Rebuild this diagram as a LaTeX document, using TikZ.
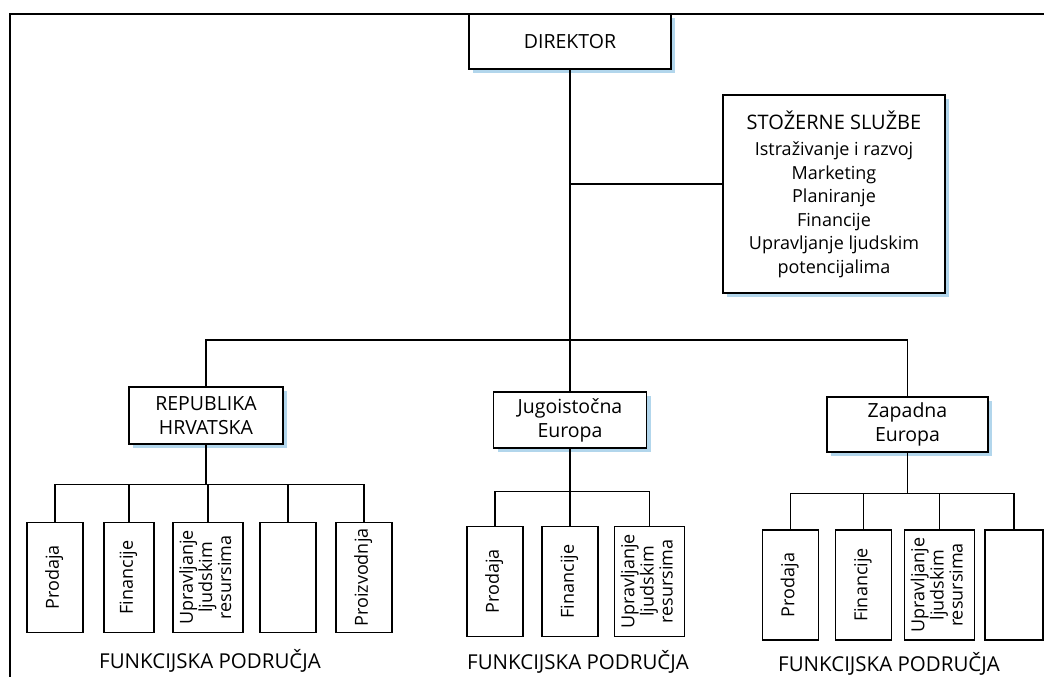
\documentclass[tikz,border=0pt]{standalone}
\usepackage{graphicx}
\usepackage{fontspec}
\setmainfont{Open Sans}
\usetikzlibrary{shadows}
\definecolor{shadowblue}{RGB}{178,214,236}
\newcommand{\vtext}[1]{\rotatebox{90}{\begin{tabular}{@{}c@{}}#1\end{tabular}}}
\begin{document}
\begin{tikzpicture}[x=1pt, y=-1pt, line width=1.1pt,
  box/.style={draw, fill=white, align=center, inner sep=2pt, font=\fontsize{19.5}{24}\selectfont},
  shbox/.style={box, drop shadow={shadow xshift=4pt, shadow yshift=-4pt, fill=shadowblue, opacity=1}},
  unit/.style={draw, fill=white, minimum width=56pt, minimum height=110pt, inner sep=1pt, font=\fontsize{18}{19}\selectfont},
  area/.style={font=\fontsize{20.5}{24}\selectfont}]

\useasboundingbox (0,0) rectangle (1044,677);
\draw[line width=2.5pt] (1044,14) -- (10,14) -- (10,677);

% top
\node[shbox, minimum width=202pt, minimum height=55pt] (dir) at (570,41.5) {DIREKTOR};
\node[shbox, minimum width=222pt, minimum height=198pt, font=\fontsize{18}{23.5}\selectfont] (staff) at (834,194)
  {{\fontsize{20}{24}\selectfont STOŽERNE SLUŽBE}\\[3pt]
   Istraživanje i razvoj\\ Marketing\\ Planiranje\\ Financije\\
   Upravljanje ljudskim\\ potencijalima};

% regions
\node[shbox, minimum width=154pt, minimum height=57pt] (rh) at (206,415.5) {REPUBLIKA\\HRVATSKA};
\node[shbox, minimum width=153pt, minimum height=56pt] (jie) at (570,420) {Jugoistočna\\Europa};
\node[shbox, minimum width=161pt, minimum height=55pt] (ze) at (907.5,424.5) {Zapadna\\Europa};

% functional units
\node[unit] (rh1) at (55,577.5) {\vtext{Prodaja}};
\node[unit, minimum width=50pt] (rh2) at (129,577.5) {\vtext{Financije}};
\node[unit, minimum width=70pt] (rh3) at (208,577.5) {\vtext{Upravljanje\\ljudskim\\resursima}};
\node[unit] (rh4) at (288,577.5) {};
\node[unit] (rh5) at (364,577.5) {\vtext{Proizvodnja}};

\node[unit] (jie1) at (495,581.5) {\vtext{Prodaja}};
\node[unit] (jie2) at (570,581.5) {\vtext{Financije}};
\node[unit, minimum width=70pt] (jie3) at (649.5,581.5) {\vtext{Upravljanje\\ljudskim\\resursima}};

\node[unit] (ze1) at (790.5,585) {\vtext{Prodaja}};
\node[unit] (ze2) at (863.5,585) {\vtext{Financije}};
\node[unit, minimum width=70pt] (ze3) at (939.5,585) {\vtext{Upravljanje\\ljudskim\\resursima}};
\node[unit, minimum width=58pt] (ze4) at (1014,585) {};

\node[area] (rhlab) at (210,661) {FUNKCIJSKA PODRUČJA};
\node[area] (jielab) at (578,662) {FUNKCIJSKA PODRUČJA};
\node[area] (zelab) at (889,664) {FUNKCIJSKA PODRUČJA};

% connectors
\coordinate (hub) at (570,340);
\draw (dir.south) -- (hub);
\draw ([yshift=10pt]staff.west) -- ([yshift=10pt]staff.west -| hub);
\draw (hub) -| (rh.north);
\draw (hub) -| (ze.north);
\draw (hub) -- (jie.north);

\foreach \c in {rh1,rh2,rh3,rh4,rh5}
  \draw (rh.south) -- ++(0,40) -| (\c.north);
\foreach \c in {jie1,jie2,jie3}
  \draw (jie.south) -- ++(0,43) -| (\c.north);
\foreach \c in {ze1,ze2,ze3,ze4}
  \draw (ze.south) -- ++(0,41) -| (\c.north);

\end{tikzpicture}
\end{document}
